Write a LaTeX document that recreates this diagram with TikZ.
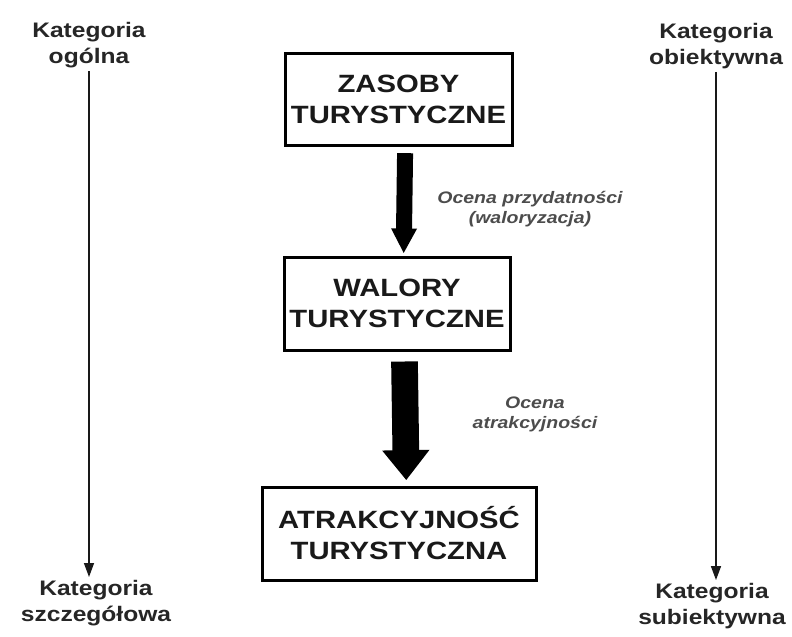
\documentclass[tikz,border=0pt]{standalone}
\usepackage{fontspec}
\setmainfont{Liberation Sans}[FakeStretch=1.17]
\usetikzlibrary{arrows.meta}

\tikzset{every picture/.style={line width=0.75pt}}
\tikzset{
  turbox/.style={draw, line width=2.25pt, inner sep=0pt, align=center,
    font=\fontsize{18.75}{23.25}\selectfont\bfseries, text=black!90},
  katlabel/.style={align=center, inner sep=2pt,
    font=\fontsize{15.75}{19.5}\selectfont\bfseries, text=black!85},
  ocena/.style={align=center, inner sep=0.75pt,
    font=\fontsize{12.5}{15}\selectfont\bfseries\itshape, text=black!70},
  thinarrow/.style={line width=1.1pt, draw=black!90, -{Triangle[length=10.5pt,width=7.5pt]}},
  bigarrow/.style={line width=12pt, -{Triangle[length=18.75pt,width=18pt]}},
  biggerarrow/.style={line width=20pt, -{Triangle[length=22.5pt,width=34pt]}},
}

\begin{document}
\begin{tikzpicture}[x=0.75pt,y=0.75pt,yscale=-1,xscale=1]
\useasboundingbox (0,0) rectangle (792,636);

% Boxes
\node [turbox, minimum width=170.25pt, minimum height=69pt] (zasoby) at (398.5,99) {ZASOBY\\TURYSTYCZNE};
\node [turbox, minimum width=169.5pt, minimum height=69.75pt] (walory) at (397,303.5) {WALORY\\TURYSTYCZNE};
\node [turbox, minimum width=205.5pt, minimum height=69.75pt] (atrakcja) at (399,533.5) {ATRAKCYJNOŚĆ\\TURYSTYCZNA};

% Text Node
\node [katlabel] (ogolna) at (89,45) {Kategoria\\ogólna};
\node [katlabel] (szczeg) at (96,603) {Kategoria\\szczegółowa};
\node [katlabel] (obiekt) at (716,46) {Kategoria\\obiektywna};
\node [katlabel] (subiekt) at (712,606) {Kategoria\\subiektywna};

% Text Node
\node [ocena] (przyd) at (530,209) {Ocena przydatności\\(waloryzacja)};
\node [ocena] (atrakc) at (535,414) {Ocena\\atrakcyjności};

%Straight Lines
\draw [bigarrow, shorten <=5pt, shorten >=1.5pt] ([xshift=5pt]zasoby.south) -- ([xshift=5pt]walory.north);
\draw [biggerarrow, shorten <=7.5pt, shorten >=4pt] ([xshift=5.5pt]walory.south) -- ([xshift=5.5pt]atrakcja.north);

%Straight Lines
\draw [thinarrow] (ogolna) -- (ogolna |- szczeg.north);
\draw [thinarrow] (obiekt) -- (obiekt |- subiekt.north);

\end{tikzpicture}
\end{document}
